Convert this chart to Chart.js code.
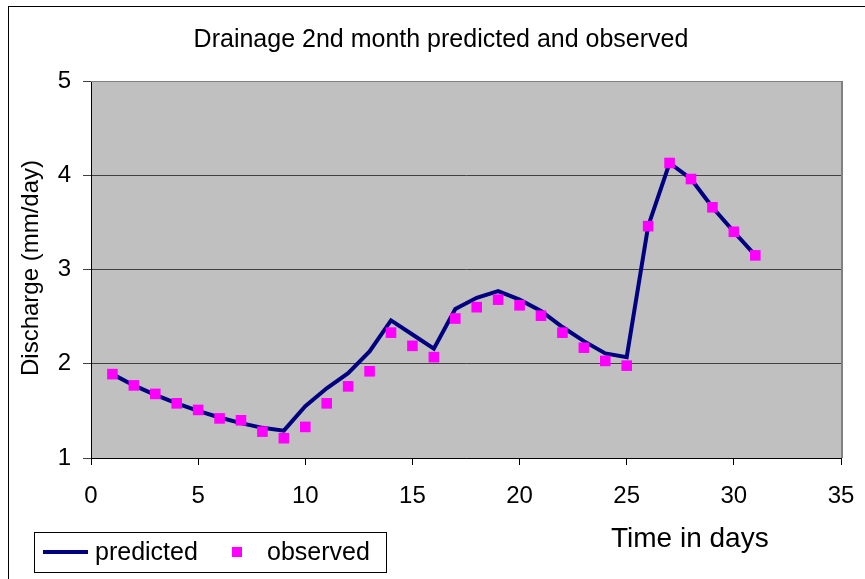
<!DOCTYPE html>
<html>
<head>
<meta charset="utf-8">
<script src="https://cdn.jsdelivr.net/npm/chart.js@4.4.0/dist/chart.umd.min.js"></script>
<style>
  html, body { margin: 0; padding: 0; background: #fff; }
  canvas { display: block; }
</style>
</head>
<body>
<canvas id="myChart" width="865" height="579"></canvas>
<script>
// values
var days = [1, 2, 3, 4, 5, 6, 7, 8, 9, 10, 11, 12, 13, 14, 15, 16, 17, 18, 19, 20, 21, 22, 23, 24, 25, 26, 27, 28, 29, 30, 31];
var predicted = [1.89, 1.77, 1.67, 1.58, 1.50, 1.43, 1.37, 1.32, 1.29, 1.55, 1.74, 1.90, 2.13, 2.46, 2.31, 2.16, 2.58, 2.70, 2.77, 2.68, 2.56, 2.39, 2.24, 2.11, 2.07, 3.46, 4.13, 3.96, 3.66, 3.40, 3.15];
var observed = [1.89, 1.77, 1.68, 1.58, 1.51, 1.42, 1.40, 1.28, 1.21, 1.33, 1.58, 1.76, 1.92, 2.33, 2.19, 2.07, 2.48, 2.60, 2.68, 2.62, 2.51, 2.33, 2.17, 2.03, 1.98, 3.46, 4.13, 3.96, 3.66, 3.40, 3.15];
var xTicks = [0, 5, 10, 15, 20, 25, 30, 35];
var yTicks = [1, 2, 3, 4, 5];

var chartTitle = "Drainage 2nd month predicted and observed";
var xTitle = "Time in days";
var yTitle = "Discharge (mm/day)";
var seriesNames = ["predicted", "observed"];

var FONT = "'Liberation Sans', Arial, sans-serif";
Chart.defaults.font.family = FONT;
Chart.defaults.color = "#000";

function toPoints(vals) {
  return days.map(function(d, i) { return { x: d, y: vals[i] }; });
}

// background, frame, plot area, titles and the legend box
var excelLook = {
  id: "excelLook",
  beforeDraw: function(chart) {
    var ctx = chart.ctx, a = chart.chartArea;
    ctx.save();
    ctx.fillStyle = "#fff";
    ctx.fillRect(0, 0, chart.width, chart.height);
    ctx.strokeStyle = "#000";
    ctx.lineWidth = 1;
    ctx.strokeRect(8.5, 6.5, chart.width + 20, chart.height + 20);
    ctx.fillStyle = "#C0C0C0";
    ctx.fillRect(a.left, a.top, a.right - a.left, a.bottom - a.top);
    ctx.restore();
  },
  beforeDatasetsDraw: function(chart) {
    var ctx = chart.ctx, a = chart.chartArea;
    ctx.save();
    ctx.strokeStyle = "#808080";
    ctx.lineWidth = 1;
    ctx.beginPath();
    ctx.moveTo(a.left, a.top + 0.5);
    ctx.lineTo(a.right, a.top + 0.5);
    ctx.stroke();
    ctx.lineWidth = 2;
    ctx.beginPath();
    ctx.moveTo(a.right + 1, a.top);
    ctx.lineTo(a.right + 1, a.bottom);
    ctx.stroke();
    ctx.restore();
  },
  afterDraw: function(chart) {
    var ctx = chart.ctx;
    ctx.save();
    ctx.fillStyle = "#000";
    ctx.textBaseline = "middle";

    ctx.font = "25px " + FONT;
    ctx.textAlign = "center";
    ctx.fillText(chartTitle, 441, 40);

    ctx.font = "28px " + FONT;
    ctx.textAlign = "left";
    ctx.fillText(xTitle, 611, 539);

    ctx.save();
    ctx.translate(31, 268);
    ctx.rotate(-Math.PI / 2);
    ctx.font = "24px " + FONT;
    ctx.textAlign = "center";
    ctx.fillText(yTitle, 0, 0);
    ctx.restore();

    // legend
    ctx.strokeStyle = "#000";
    ctx.lineWidth = 1;
    ctx.strokeRect(34.5, 532.5, 352, 40);
    ctx.strokeStyle = "#000080";
    ctx.lineWidth = 4;
    ctx.beginPath();
    ctx.moveTo(43, 552);
    ctx.lineTo(88, 552);
    ctx.stroke();
    ctx.fillStyle = "#FF00FF";
    ctx.fillRect(232, 547, 10, 10);
    ctx.fillStyle = "#000";
    ctx.font = "25px " + FONT;
    ctx.textAlign = "left";
    ctx.fillText(seriesNames[0], 95, 553);
    ctx.fillText(seriesNames[1], 267, 553);
    ctx.restore();
  }
};

var ctx = document.getElementById("myChart").getContext("2d");
var chart = new Chart(ctx, {
  type: "line",
  data: {
    datasets: [
      {
        label: seriesNames[0],
        data: toPoints(predicted),
        borderColor: "#000080",
        borderWidth: 4,
        pointRadius: 0,
        tension: 0,
        fill: false,
        order: 1
      },
      {
        label: seriesNames[1],
        data: toPoints(observed),
        showLine: false,
        pointStyle: "rect",
        pointRadius: 7.5,
        pointBackgroundColor: "#FF00FF",
        pointBorderColor: "#FF00FF",
        pointBorderWidth: 0,
        order: 0
      }
    ]
  },
  options: {
    responsive: false,
    animation: false,
    devicePixelRatio: 1,
    layout: { padding: { top: 81, right: 24, bottom: 0, left: 0 } },
    plugins: {
      legend: { display: false },
      title: { display: false },
      tooltip: { enabled: false }
    },
    scales: {
      x: {
        type: "linear",
        min: xTicks[0],
        max: xTicks[xTicks.length - 1],
        afterBuildTicks: function(s) { s.ticks = xTicks.map(function(v) { return { value: v }; }); },
        afterFit: function(s) { s.height = 121; s.paddingLeft = 0; s.paddingRight = 0; },
        ticks: { font: { size: 24 }, color: "#000", padding: 17, maxRotation: 0 },
        grid: { drawOnChartArea: false, color: "#000", tickLength: 7 },
        border: { color: "#000", width: 1 }
      },
      y: {
        min: yTicks[0],
        max: yTicks[yTicks.length - 1],
        afterBuildTicks: function(s) { s.ticks = yTicks.map(function(v) { return { value: v }; }); },
        afterFit: function(s) { s.width = 91; },
        ticks: { font: { size: 24 }, color: "#000", padding: 12 },
        grid: { color: "#404040", tickLength: 8 },
        border: { color: "#000", width: 1 }
      }
    }
  },
  plugins: [excelLook]
});
</script>
</body>
</html>
